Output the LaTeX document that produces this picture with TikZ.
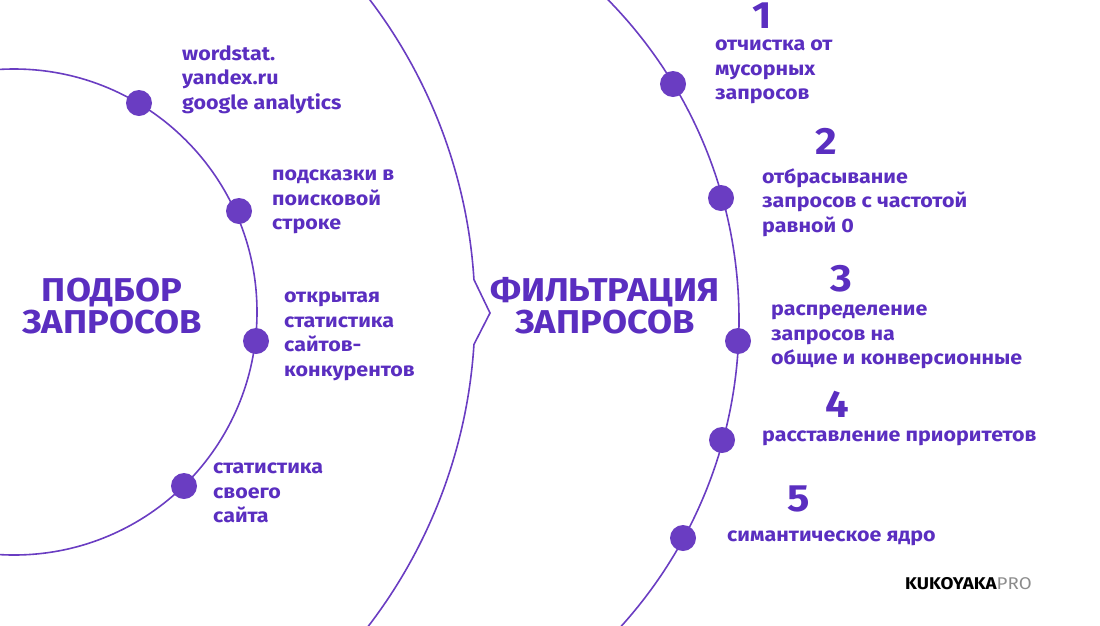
\documentclass[tikz,border=0pt]{standalone}
\usepackage{fontspec}
\usetikzlibrary{calc}
\setmainfont{Fira Sans}[FakeStretch=1.1]
\definecolor{pur}{HTML}{6A3DC2}
\definecolor{txt}{HTML}{5A2EC0}
\begin{document}
\begin{tikzpicture}[x=1pt,y=-1pt,
  arc/.style={draw=pur,line width=1.6pt},
  dot/.style={circle,fill=pur,minimum size=26pt,inner sep=0pt},
  lbl/.style={anchor=north west,align=left,inner sep=0pt,text=txt,font=\fontsize{19.5}{24.5}\selectfont\bfseries},
  ttl/.style={align=center,inner sep=0pt,text=txt,font=\fontsize{33}{32}\selectfont\bfseries},
  num/.style={anchor=north west,inner sep=0pt,text=txt,font=\fontsize{38}{38}\selectfont\bfseries}]
\useasboundingbox (0,0) rectangle (1100,625);
\begin{scope}
\clip (0,0) rectangle (1100,625);
\draw[arc] (14,312) circle (243);
\draw[arc] (282,320) circle (457);
\draw[arc] (-41,312) ++(-40:516) arc[start angle=-40,end angle=-3.6,radius=516] -- (490,313) -- ($(-41,312)+(3.6:516)$) arc[start angle=3.6,end angle=40,radius=516];
\end{scope}
% left dots
\node[dot] (d1) at (139,103) {};
\node[dot] (d2) at (239,211) {};
\node[dot] (d3) at (256,341) {};
\node[dot] (d4) at (184,486) {};
% right dots
\node[dot] (e1) at (673,84) {};
\node[dot] (e2) at (721,198) {};
\node[dot] (e3) at (738,341) {};
\node[dot] (e4) at (722,440) {};
\node[dot] (e5) at (683,538) {};
% titles
\node[ttl] (t1) at (112,306) {ПОДБОР\\ЗАПРОСОВ};
\node[ttl] (t2) at (605,306) {ФИЛЬТРАЦИЯ\\ЗАПРОСОВ};
% left labels
\node[lbl] (l1) at (182,45) {wordstat.\\yandex.ru\\google analytics};
\node[lbl] (l2) at (272,170) {подсказки в\\поисковой\\строке};
\node[lbl] (l3) at (284,292) {открытая\\статистика\\сайтов-\\конкурентов};
\node[lbl] (l4) at (213,463) {статистика\\своего\\сайта};
% right labels
\node[num] (n1) at (752,3) {1};
\node[lbl] (r1) at (715,40) {отчистка от\\мусорных\\запросов};
\node[num] (n2) at (815,128) {2};
\node[lbl] (r2) at (762,168) {отбрасывание\\запросов с частотой\\равной 0};
\node[num] (n3) at (830,265) {3};
\node[lbl] (r3) at (771,305) {распределение\\запросов на\\общие и конверсионные};
\node[num] (n4) at (825,391) {4};
\node[lbl] (r4) at (762,431) {расставление приоритетов};
\node[num] (n5) at (787,486) {5};
\node[lbl] (r5) at (727,531) {симантическое ядро};
% logo
\node[anchor=west,inner sep=0pt,font=\fontsize{17}{17}\selectfont] (logo) at (905,584) {\bfseries KUKOYAKA\color{black!45}\mdseries PRO};
\end{tikzpicture}
\end{document}
